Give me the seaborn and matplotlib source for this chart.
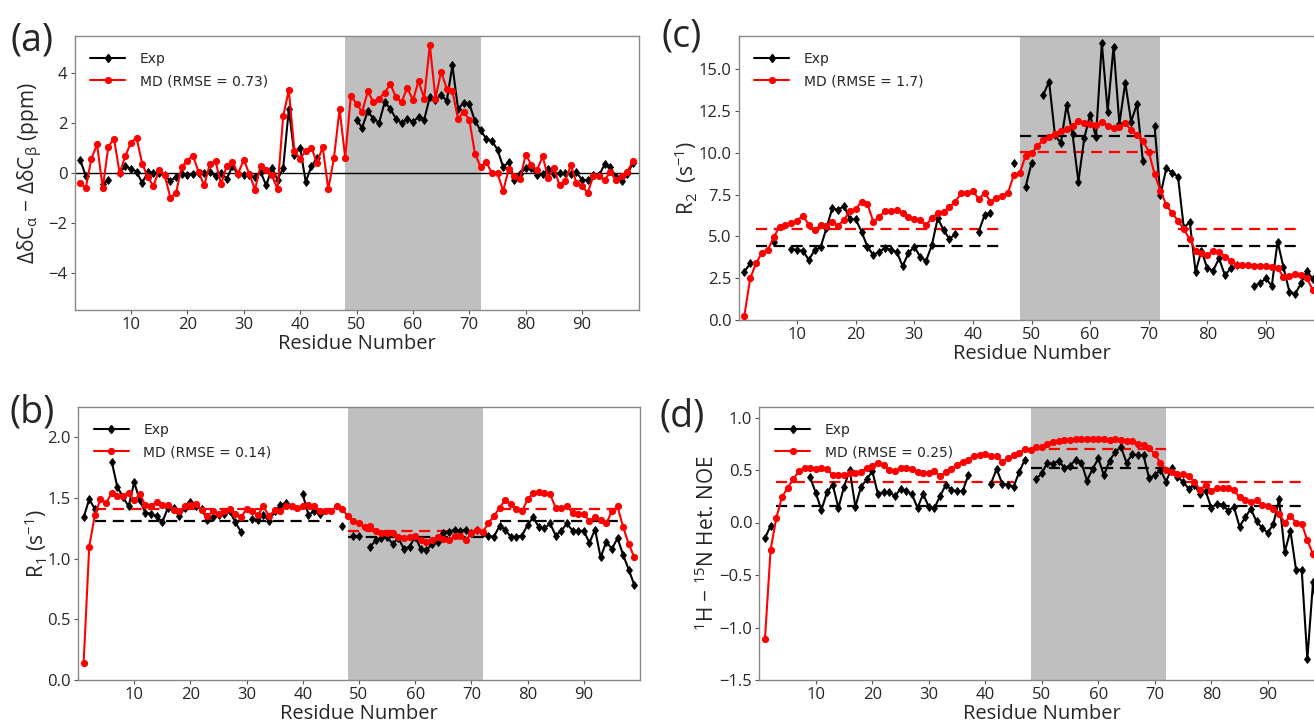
import numpy as np
import pandas as pd
import matplotlib
matplotlib.use("Agg")
import matplotlib.pyplot as plt
import matplotlib.ticker as mticker
from matplotlib.lines import Line2D
import seaborn as sns

nan = np.nan
residues = list(range(1, 100))
xticks = [10, 20, 30, 40, 50, 60, 70, 80, 90]
helix = (48, 72)                              # structured segment, shaded
regions = [(3, 45), (48, 72), (75, 96)]       # ranges of the averaged lines

# (a) secondary chemical shifts
cs_exp = [0.54, -0.12, nan, nan, -0.45, -0.30, nan, 0.00, 0.27, 0.17,
          0.06, -0.40, 0.04, 0.00, 0.00, -0.10, -0.32, -0.16, -0.05, -0.10,
          -0.03, 0.00, 0.00, 0.04, -0.13, 0.00, -0.23, 0.27, -0.05, -0.10,
          -0.10, -0.16, 0.04, -0.50, 0.21, -0.27, 0.21, 2.56, 0.71, 1.02,
          -0.36, 0.27, 0.60, nan, nan, nan, nan, nan, nan, 2.14,
          1.82, 2.48, 2.18, 2.01, 2.85, 2.58, 2.18, 2.01, 2.18, 2.05,
          2.25, 2.14, 3.05, 2.92, 3.15, 2.89, 4.32, 2.58, 2.81, 2.78,
          2.09, 1.71, 1.38, 1.29, 0.94, 0.24, 0.44, -0.29, -0.05, 0.20,
          0.21, -0.10, -0.05, 0.17, -0.03, 0.00, 0.00, -0.05, 0.04, -0.29,
          -0.29, -0.07, -0.10, 0.35, 0.24, -0.16, -0.32, -0.05, 0.40]
cs_md = [-0.39, -0.60, 0.58, 1.15, -0.60, 1.05, 1.38, 0.00, 0.67, 1.22,
         1.42, 0.37, -0.16, -0.53, 0.13, -0.10, -0.99, -0.80, 0.24, 0.50,
         0.70, 0.04, -0.50, 0.37, 0.47, -0.45, 0.30, 0.44, -0.03, 0.53,
         -0.03, -0.67, 0.30, 0.13, -0.10, -0.65, 2.29, 3.32, 0.88, 0.58,
         0.88, 1.02, 0.40, 1.05, -0.65, 0.60, 2.56, 0.62, 3.10, 2.78,
         2.45, 3.28, 2.84, 2.99, 3.23, 3.56, 3.05, 2.85, 3.43, 2.92,
         3.69, 2.99, 5.14, 2.99, 4.07, 3.39, 3.29, 2.18, 2.45, 2.14,
         0.78, 0.24, 0.44, 0.00, 0.00, -0.72, 0.17, -0.13, -0.24, 0.74,
         0.33, 0.11, 0.67, -0.19, 0.21, -0.50, -0.32, 0.31, -0.40, -0.54,
         -0.79, -0.12, -0.12, -0.27, 0.04, -0.29, -0.13, 0.04, 0.48]

# (b) R1 relaxation rates
r1_exp = [1.34, 1.49, 1.41, nan, nan, 1.80, 1.59, 1.51, 1.43, 1.63,
          1.48, 1.38, 1.37, 1.35, 1.30, 1.42, 1.42, 1.35, 1.42, 1.47,
          1.43, 1.41, 1.32, 1.34, 1.36, 1.37, 1.39, 1.30, 1.22, nan,
          1.33, 1.32, 1.36, 1.31, 1.39, 1.44, 1.46, nan, nan, 1.53,
          1.36, 1.39, 1.37, nan, nan, nan, 1.27, nan, 1.19, 1.19,
          nan, 1.10, 1.15, 1.17, 1.18, 1.12, 1.17, 1.08, 1.10, 1.18,
          1.08, 1.07, 1.12, 1.14, 1.21, 1.22, 1.24, 1.23, 1.24, 1.21,
          1.24, 1.21, 1.19, 1.18, 1.27, 1.24, 1.18, 1.18, 1.19, 1.28,
          1.34, 1.26, 1.25, 1.29, 1.19, 1.23, 1.29, 1.23, 1.23, 1.23,
          1.13, 1.24, 1.01, 1.14, 1.08, 1.17, 1.03, 0.91, 0.78]
r1_md = [0.14, 1.10, 1.36, 1.49, 1.46, 1.54, 1.52, 1.52, 1.54, 1.48,
         1.53, 1.44, 1.43, 1.47, 1.44, 1.44, 1.40, 1.39, 1.43, 1.44,
         1.45, 1.40, 1.35, 1.39, 1.37, 1.39, 1.41, 1.37, 1.34, 1.41,
         1.39, 1.36, 1.43, 1.35, 1.40, 1.39, 1.43, 1.43, 1.42, 1.43,
         1.44, 1.43, 1.39, 1.39, 1.39, 1.43, 1.41, 1.35, 1.31, 1.29,
         1.26, 1.27, 1.23, 1.21, 1.21, 1.21, 1.18, 1.17, 1.18, 1.19,
         1.15, 1.14, 1.15, 1.18, 1.16, 1.15, 1.19, 1.19, 1.15, 1.21,
         1.24, 1.22, 1.29, 1.35, 1.42, 1.48, 1.45, 1.41, 1.39, 1.49,
         1.54, 1.55, 1.54, 1.53, 1.42, 1.42, 1.43, 1.38, 1.37, 1.37,
         1.31, 1.34, 1.32, 1.29, 1.39, 1.43, 1.26, 1.12, 1.01]
r1_exp_avg = [1.31, 1.18, 1.31]
r1_md_avg = [1.41, 1.23, 1.41]

# (c) R2 relaxation rates
r2_exp = [2.89, 3.39, nan, nan, nan, 4.69, nan, nan, 4.23, 4.19,
          4.15, 3.59, 4.19, 4.35, 5.49, 6.69, 6.59, 6.83, 6.03, 6.03,
          5.29, 4.39, 3.89, 4.09, 4.29, 4.19, 4.09, 3.23, 3.99, 4.39,
          3.79, 3.53, 4.49, 6.09, 5.39, 4.83, 5.15, nan, nan, nan,
          5.29, 6.29, 6.43, nan, nan, nan, 9.38, nan, 7.98, 9.38,
          nan, 13.47, 14.27, 11.08, 10.58, 12.87, 11.14, 8.28, 10.88, 12.28,
          10.94, 16.57, 12.48, 16.37, 11.74, 14.21, 11.88, 12.93, 9.54, nan,
          11.62, 7.48, 9.08, 8.82, 8.58, 5.49, 5.89, 2.89, 4.15, 3.09,
          2.95, 3.69, 2.69, 3.09, 3.29, nan, nan, 2.04, 2.20, 2.49,
          2.04, 4.69, 3.15, 1.70, 1.56, 2.20, 2.95, 2.44, 2.80]
r2_md = [0.26, 2.50, 3.39, 4.03, 4.19, 4.95, 5.59, 5.69, 5.79, 5.95,
         6.25, 5.69, 5.39, 5.69, 5.63, 5.85, 5.65, 5.99, 6.53, 6.63,
         7.09, 6.95, 5.89, 6.15, 6.55, 6.55, 6.59, 6.43, 6.19, 6.03,
         5.99, 5.69, 6.09, 6.39, 6.49, 6.75, 7.09, 7.58, 7.62, 7.74,
         7.23, 7.62, 7.09, 7.30, 7.43, 7.62, 8.70, 8.80, 9.82, 9.98,
         10.42, 10.78, 10.98, 11.14, 11.34, 11.42, 11.62, 11.94, 11.78, 11.74,
         11.68, 11.88, 11.62, 11.52, 11.58, 11.78, 11.38, 11.08, 10.74, 10.08,
         8.74, 7.74, 6.89, 6.39, 5.95, 5.43, 4.83, 4.15, 4.03, 3.89,
         4.15, 4.09, 3.79, 3.55, 3.29, 3.29, 3.29, 3.25, 3.25, 3.25,
         3.15, 3.09, 2.59, 2.63, 2.75, 2.69, 2.49, 1.80, 1.60]
r2_exp_avg = [4.40, 11.00, 4.40]
r2_md_avg = [5.45, 10.05, 5.45]

# (d) heteronuclear NOE
noe_exp = [-0.15, -0.03, nan, nan, nan, nan, nan, nan, 0.43, 0.28,
           0.12, 0.29, 0.36, 0.14, 0.34, 0.50, 0.15, 0.34, 0.41, 0.49,
           0.27, 0.29, 0.29, 0.25, 0.32, 0.30, 0.27, 0.14, 0.27, 0.15,
           0.14, 0.25, 0.36, 0.31, 0.30, 0.30, 0.45, nan, nan, nan,
           0.37, 0.51, 0.37, 0.36, 0.34, 0.48, 0.60, nan, 0.41, 0.47,
           0.57, 0.56, 0.59, 0.52, 0.54, 0.60, 0.57, 0.40, 0.51, 0.61,
           0.45, 0.59, 0.67, 0.72, 0.57, 0.65, 0.64, 0.64, 0.42, 0.45,
           0.50, 0.39, 0.52, 0.43, 0.39, 0.32, 0.36, 0.27, 0.30, 0.14,
           0.18, 0.17, 0.11, 0.15, -0.04, 0.05, 0.13, 0.01, -0.05, -0.10,
           -0.01, 0.22, -0.28, -0.08, -0.45, -0.45, -1.30, -0.57, -0.95]
noe_md = [-1.11, -0.26, 0.04, 0.24, 0.33, 0.41, 0.49, 0.52, 0.52, 0.51,
          0.52, 0.51, 0.45, 0.45, 0.45, 0.47, 0.47, 0.48, 0.52, 0.54,
          0.57, 0.55, 0.50, 0.49, 0.52, 0.52, 0.51, 0.48, 0.47, 0.47,
          0.49, 0.44, 0.48, 0.51, 0.55, 0.58, 0.60, 0.63, 0.64, 0.65,
          0.63, 0.63, 0.58, 0.61, 0.64, 0.66, 0.70, 0.69, 0.72, 0.72,
          0.75, 0.77, 0.78, 0.79, 0.79, 0.80, 0.80, 0.80, 0.80, 0.80,
          0.80, 0.79, 0.80, 0.79, 0.78, 0.78, 0.75, 0.74, 0.71, 0.65,
          0.57, 0.50, 0.48, 0.46, 0.46, 0.44, 0.39, 0.31, 0.36, 0.30,
          0.33, 0.33, 0.33, 0.31, 0.24, 0.21, 0.20, 0.21, 0.17, 0.16,
          0.13, 0.08, 0.00, 0.06, 0.00, -0.01, -0.17, -0.30, -0.45]
noe_exp_avg = [0.16, 0.52, 0.16]
noe_md_avg = [0.39, 0.70, 0.39]

rmse_labels = ["MD (RMSE = 0.73)", "MD (RMSE = 0.14)", "MD (RMSE = 1.7)", "MD (RMSE = 0.25)"]

sns.set_theme(style="ticks")
FONT = ["Open Sans", "DejaVu Sans"]
plt.rcParams["font.family"] = FONT
plt.rcParams["axes.unicode_minus"] = True

fig = plt.figure(figsize=(13.14, 7.24), dpi=100)
W, H = 1314.0, 724.0


def add_axes(left, right, top, bottom):
    return fig.add_axes([left / W, 1 - bottom / H, (right - left) / W, (bottom - top) / H])


def segments(values):
    vals = np.asarray(values, dtype=float)
    df = pd.DataFrame({"residue": residues, "value": vals,
                       "seg": np.cumsum(np.isnan(vals))})
    return df.dropna()


def panel(ax, exp, md, ylim, yticks, ylabel, label_x, rmse, exp_avg=None, md_avg=None):
    ax.axvspan(*helix, color="#bfbfbf", lw=0, zorder=0)
    if exp_avg is not None:
        for (a, b), v in zip(regions, exp_avg):
            ax.hlines(v, a, b, colors="black", linestyles=(0, (5, 3)), lw=1.6, zorder=2)
        for (a, b), v in zip(regions, md_avg):
            ax.hlines(v, a, b, colors="red", linestyles=(0, (5, 3)), lw=1.6, zorder=2)
    sns.lineplot(data=segments(exp), x="residue", y="value", units="seg",
                 estimator=None, sort=False, color="black", marker="d",
                 markersize=4.5, markeredgewidth=0.6, markeredgecolor="black",
                 linewidth=1.5, legend=False, ax=ax, zorder=3)
    sns.lineplot(data=segments(md), x="residue", y="value", units="seg",
                 estimator=None, sort=False, color="red", marker="o",
                 markersize=5.2, markeredgewidth=0, linewidth=1.5,
                 legend=False, ax=ax, zorder=4)
    ax.set_xlim(0, 100)
    ax.set_ylim(*ylim)
    ax.set_xticks(xticks)
    ax.set_yticks(yticks)
    decimals = 1 if (any(t % 1 for t in yticks) or ylim[1] < 3) else 0
    ax.yaxis.set_major_formatter(mticker.FuncFormatter(
        lambda v, _: f"{v:.{decimals}f}".replace("-", "\u2212")))
    ax.tick_params(labelsize=12, length=3, width=0.8, color="#555555", pad=2)
    ax.set_xlabel("Residue Number", fontsize=14.5, labelpad=1)
    ax.set_ylabel(ylabel, fontsize=15)
    ax.yaxis.set_label_coords(label_x, 0.5)
    for s in ax.spines.values():
        s.set_visible(True)
        s.set_color("#888888")
        s.set_linewidth(1.0)
    handles = [Line2D([], [], color="black", marker="d", markersize=4.5, lw=1.5),
               Line2D([], [], color="red", marker="o", markersize=5.2, markeredgewidth=0, lw=1.5)]
    ax.legend(handles, ["Exp", rmse], loc="upper left", frameon=False,
              prop={"family": "DejaVu Sans", "size": 10}, borderaxespad=0.75,
              handlelength=2.5, handletextpad=1.05, labelspacing=0.6)


ax_a = add_axes(74.5, 638.5, 36, 310)
ax_b = add_axes(78, 640, 407, 680)
ax_c = add_axes(738.5, 1324.5, 36, 320)
ax_d = add_axes(759.3, 1324.3, 407, 680)

ax_a.axhline(0, color="black", lw=1.0, zorder=1)
panel(ax_a, cs_exp, cs_md, (-5.5, 5.5), [-4, -2, 0, 2, 4],
      r"ΔδC$_\mathregular{α}$ − ΔδC$_\mathregular{β}$ (ppm)", -0.052, rmse_labels[0])
panel(ax_b, r1_exp, r1_md, (0, 2.25), [0, 0.5, 1.0, 1.5, 2.0],
      r"R$_\mathregular{1}$ (s$^\mathregular{-1}$)", -0.050, rmse_labels[1],
      r1_exp_avg, r1_md_avg)
panel(ax_c, r2_exp, r2_md, (0, 17), [0, 2.5, 5, 7.5, 10, 12.5, 15],
      r"R$_\mathregular{2}$  (s$^\mathregular{-1}$)", -0.066, rmse_labels[2],
      r2_exp_avg, r2_md_avg)
panel(ax_d, noe_exp, noe_md, (-1.5, 1.1), [-1.5, -1.0, -0.5, 0.0, 0.5, 1.0],
      r"$^\mathregular{1}$H − $^\mathregular{15}$N Het. NOE", -0.071, rmse_labels[3],
      noe_exp_avg, noe_md_avg)

for txt, x, y in [("(a)", 32, 40), ("(b)", 32, 412), ("(c)", 682, 36), ("(d)", 682, 416)]:
    fig.text(x / W, 1 - y / H, txt, fontsize=27, ha="center", va="center")

fig.savefig("out.png", dpi=100)
